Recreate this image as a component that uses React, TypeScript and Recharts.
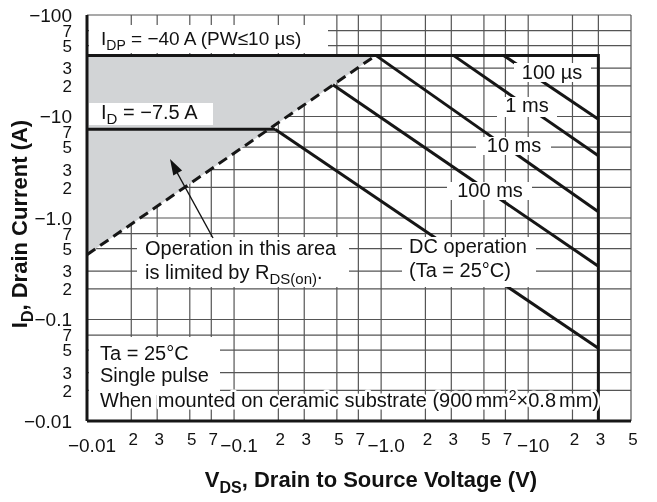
import React from "react";
import { Area, CartesianGrid, ComposedChart, Line, XAxis, YAxis } from "recharts";

const FONT = "'Liberation Sans', Arial, Helvetica, sans-serif";

// axis ticks (log-log, negative-polarity labels as in datasheet)
const xTicks = [0.01, 0.02, 0.03, 0.05, 0.07, 0.1, 0.2, 0.3, 0.5, 0.7, 1, 2, 3, 5, 7, 10, 20, 30, 50];
const xTickLabels = ["−0.01", "2", "3", "5", "7", "−0.1", "2", "3", "5", "7", "−1.0", "2", "3", "5", "7", "−10", "2", "3", "5"];
const yTicks = [0.01, 0.02, 0.03, 0.05, 0.07, 0.1, 0.2, 0.3, 0.5, 0.7, 1, 2, 3, 5, 7, 10, 20, 30, 50, 70, 100];
const yTickLabels = ["−0.01", "2", "3", "5", "7", "−0.1", "2", "3", "5", "7", "−1.0", "2", "3", "5", "7", "−10", "2", "3", "5", "7", "−100"];

// SOA boundary lines: |VDS| (V) and |ID| (A)
const limitV = [0.01, 30, 30];
const limitI = [40, 40, 0.01];
const idV = [0.01, 0.19];
const idI = [7.5, 7.5];
const rdsV = [0.01, 0.92];
const rdsI = [0.435, 40];
const dcV = [0.19, 30];
const dcI = [7.5, 0.052];
const ms100V = [0.47, 30];
const ms100I = [20.5, 0.335];
const ms10V = [0.92, 30];
const ms10I = [40, 1.15];
const ms1V = [3.1, 30];
const ms1I = [40, 4.1];
const us100V = [6.8, 30];
const us100I = [40, 9.4];

// shaded R_DS(on) limited region
const shadeV = [0.01, 0.92];
const shadeLow = [0.435, 40];
const shadeHigh = [40, 40];

const pts = (v: number[], i: number[]) => v.map((x, k) => ({ v: x, i: i[k] }));
const shade = shadeV.map((x, k) => ({ v: x, range: [shadeLow[k], shadeHigh[k]] }));

const XTick = (props: any) => {
  const { x, index } = props;
  const label = xTickLabels[index];
  const decade = label.startsWith("−");
  return (
    <text
      x={x + (decade ? 5 : 2)}
      y={decade ? 452 : 445}
      textAnchor="middle"
      fontFamily={FONT}
      fontSize={decade ? 19 : 17}
      fill="#111"
    >
      {label}
    </text>
  );
};

const YTick = (props: any) => {
  const { y, index } = props;
  const label = yTickLabels[index];
  const decade = label.startsWith("−");
  return (
    <text x={72} y={y} dy="0.36em" textAnchor="end" fontFamily={FONT} fontSize={decade ? 19 : 17} fill="#111">
      {label}
    </text>
  );
};

const lineStyle = { stroke: "#161616", strokeWidth: 3, dot: false, isAnimationActive: false, type: "linear" as const };

function Notes() {
  const t = { fontFamily: FONT, fontSize: 20, fill: "#111" };
  const box = { fill: "#fff" };
  const halo = { stroke: "#fff", strokeWidth: 5, paintOrder: "stroke" as const, strokeLinejoin: "round" as const };
  return (
    <svg width={657} height={502} style={{ position: "absolute", left: 0, top: 0, pointerEvents: "none" }}>
      <rect x={89} y={25} width={239} height={28} {...box} />
      <text x={101} y={45} {...t} fontSize={19}>
        <tspan>I</tspan>
        <tspan dy={5} fontSize={14}>DP</tspan>
        <tspan dy={-5}> = −40 A (PW≤10 µs)</tspan>
      </text>

      <rect x={89} y={103} width={124} height={22} {...box} />
      <text x={101} y={118.5} {...t}>
        <tspan>I</tspan>
        <tspan dy={5} fontSize={15}>D</tspan>
        <tspan dy={-5}> = −7.5 A</tspan>
      </text>

      <rect x={137} y={237} width={212} height={50} {...box} />
      <text x={145} y={255} {...t}>Operation in this area</text>
      <text x={145} y={278.5} {...t}>
        <tspan>is limited by R</tspan>
        <tspan dy={5} fontSize={15}>DS(on)</tspan>
        <tspan dy={-5}>.</tspan>
      </text>
      <line x1={213} y1={238} x2={174} y2={167} stroke="#111" strokeWidth={1.4} />
      <polygon points="170,159 182.1,170.6 173.3,175.4" fill="#111" />

      <rect x={402} y={237} width={134} height={50} {...box} />
      <text x={409} y={253} {...t}>DC operation</text>
      <text x={409} y={277} {...t}>(Ta = 25°C)</text>

      <rect x={514} y={63} width={77} height={19} {...box} />
      <text x={552} y={79} textAnchor="middle" {...t}>100 µs</text>
      <rect x={497} y={97} width={60} height={20} {...box} />
      <text x={527} y={112} textAnchor="middle" {...t}>1 ms</text>
      <rect x={476} y={137} width={75} height={18} {...box} />
      <text x={514} y={151.5} textAnchor="middle" {...t}>10 ms</text>
      <rect x={447} y={182} width={85} height={18} {...box} />
      <text x={490} y={196.5} textAnchor="middle" {...t}>100 ms</text>

      <rect x={89} y={337} width={131} height={58} {...box} />
      <text x={100} y={360} {...t}>Ta = 25°C</text>
      <text x={100} y={382} {...t}>Single pulse</text>
      <text x={100} y={407} {...t} {...halo}>
        <tspan>When mounted on ceramic substrate (900</tspan>
        <tspan dx={3}>mm</tspan>
        <tspan dy={-7} fontSize={14}>2</tspan>
        <tspan dy={7}>×0.8</tspan>
        <tspan dx={3}>mm)</tspan>
      </text>

      <text x={371} y={487} textAnchor="middle" fontFamily={FONT} fontSize={22} fontWeight="bold" fill="#111">
        <tspan>V</tspan>
        <tspan dy={6} fontSize={16}>DS</tspan>
        <tspan dy={-6}>, Drain to Source Voltage (V)</tspan>
      </text>
      <text
        transform="translate(27,224) rotate(-90)"
        textAnchor="middle"
        fontFamily={FONT}
        fontSize={22}
        fontWeight="bold"
        fill="#111"
      >
        <tspan>I</tspan>
        <tspan dy={6} fontSize={16}>D</tspan>
        <tspan dy={-6}>, Drain Current (A)</tspan>
      </text>
    </svg>
  );
}

export default function App() {
  return (
    <div style={{ position: "absolute", left: 0, top: 0, width: 657, height: 502, background: "#fff" }}>
      <style>{".shade path { mix-blend-mode: multiply; }"}</style>
      <ComposedChart width={657} height={502} margin={{ top: 15, right: 26, bottom: 51, left: 7 }}>
        <CartesianGrid stroke="#555" strokeWidth={1.2} />
        <XAxis
          dataKey="v"
          type="number"
          scale="log"
          domain={[0.01, 50]}
          ticks={xTicks}
          interval={0}
          allowDataOverflow
          height={30}
          tickLine={false}
          axisLine={{ stroke: "#161616", strokeWidth: 3 }}
          tick={<XTick />}
        />
        <YAxis
          type="number"
          scale="log"
          domain={[0.01, 100]}
          ticks={yTicks}
          interval={0}
          allowDataOverflow
          width={80}
          tickLine={false}
          axisLine={{ stroke: "#161616", strokeWidth: 3 }}
          tick={<YTick />}
        />
        <Area
          className="shade"
          data={shade}
          dataKey="range"
          type="linear"
          fill="#d2d4d6"
          fillOpacity={1}
          stroke="none"
          isAnimationActive={false}
        />
        <Line data={pts(limitV, limitI)} dataKey="i" {...lineStyle} />
        <Line data={pts(idV, idI)} dataKey="i" {...lineStyle} />
        <Line data={pts(rdsV, rdsI)} dataKey="i" {...lineStyle} strokeDasharray="10 6" />
        <Line data={pts(dcV, dcI)} dataKey="i" {...lineStyle} />
        <Line data={pts(ms100V, ms100I)} dataKey="i" {...lineStyle} />
        <Line data={pts(ms10V, ms10I)} dataKey="i" {...lineStyle} />
        <Line data={pts(ms1V, ms1I)} dataKey="i" {...lineStyle} />
        <Line data={pts(us100V, us100I)} dataKey="i" {...lineStyle} />
      </ComposedChart>
      <Notes />
    </div>
  );
}
